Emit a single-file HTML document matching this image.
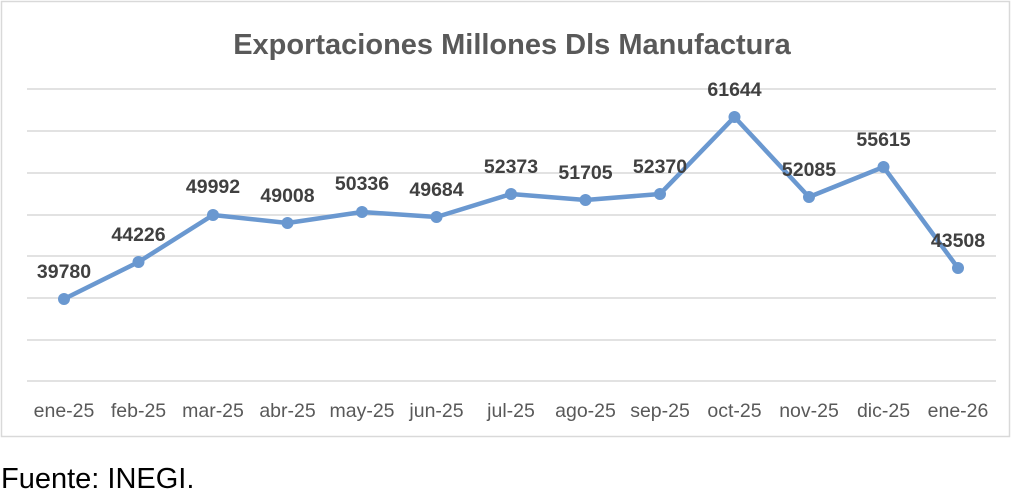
<!DOCTYPE html>
<html><head><meta charset="utf-8"><style>
body{margin:0;background:#fff;width:1024px;height:494px;overflow:hidden}
</style></head><body>
<svg width="1024" height="494" xmlns="http://www.w3.org/2000/svg" font-family="'Liberation Sans',sans-serif">
<rect x="1.5" y="1.5" width="1008" height="435" fill="#fff" stroke="#d9d9d9" stroke-width="1.5"/>
<text x="512" y="54" text-anchor="middle" font-size="29" font-weight="bold" fill="#595959">Exportaciones Millones Dls Manufactura</text>
<g stroke="#d9d9d9" stroke-width="1.5">
<line x1="27" x2="996" y1="89" y2="89"/><line x1="27" x2="996" y1="131" y2="131"/>
<line x1="27" x2="996" y1="173" y2="173"/><line x1="27" x2="996" y1="215" y2="215"/>
<line x1="27" x2="996" y1="256" y2="256"/><line x1="27" x2="996" y1="298" y2="298"/>
<line x1="27" x2="996" y1="340" y2="340"/><line x1="27" x2="996" y1="381" y2="381"/>
</g>
<polyline fill="none" stroke="#6a98d0" stroke-width="4.5" stroke-linejoin="round"
points="64,299 138.5,262 213,215 287.5,223 362,212 436.5,217 511,194 585.5,200 660,194 734.5,117 809,197 883.5,167 958,268"/>
<g fill="#6a98d0">
<circle cx="64" cy="299" r="6"/><circle cx="138.5" cy="262" r="6"/><circle cx="213" cy="215" r="6"/>
<circle cx="287.5" cy="223" r="6"/><circle cx="362" cy="212" r="6"/><circle cx="436.5" cy="217" r="6"/>
<circle cx="511" cy="194" r="6"/><circle cx="585.5" cy="200" r="6"/><circle cx="660" cy="194" r="6"/>
<circle cx="734.5" cy="117" r="6"/><circle cx="809" cy="197" r="6"/><circle cx="883.5" cy="167" r="6"/>
<circle cx="958" cy="268" r="6"/>
</g>
<g font-size="19.5" font-weight="bold" fill="#404040" text-anchor="middle">
<text x="64" y="278">39780</text><text x="138.5" y="241">44226</text><text x="213" y="193">49992</text>
<text x="287.5" y="202">49008</text><text x="362" y="190">50336</text><text x="436.5" y="196">49684</text>
<text x="511" y="173">52373</text><text x="585.5" y="179">51705</text><text x="660" y="173">52370</text>
<text x="734.5" y="96">61644</text><text x="809" y="176">52085</text><text x="883.5" y="146">55615</text>
<text x="958" y="247">43508</text>
</g>
<g font-size="19.5" fill="#595959" text-anchor="middle">
<text x="64" y="417">ene-25</text><text x="138.5" y="417">feb-25</text><text x="213" y="417">mar-25</text>
<text x="287.5" y="417">abr-25</text><text x="362" y="417">may-25</text><text x="436.5" y="417">jun-25</text>
<text x="511" y="417">jul-25</text><text x="585.5" y="417">ago-25</text><text x="660" y="417">sep-25</text>
<text x="734.5" y="417">oct-25</text><text x="809" y="417">nov-25</text><text x="883.5" y="417">dic-25</text>
<text x="958" y="417">ene-26</text>
</g>
<text x="1" y="488" font-size="29" fill="#000">Fuente: INEGI.</text>
</svg>
</body></html>
